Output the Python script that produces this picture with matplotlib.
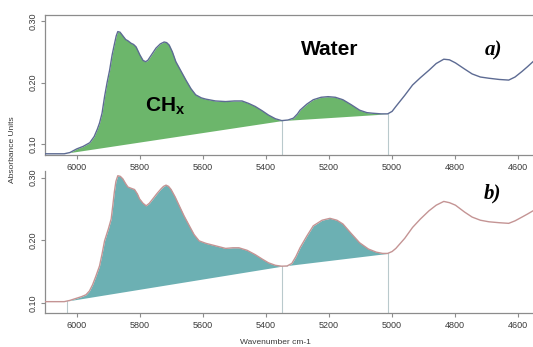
import numpy as np
import matplotlib
matplotlib.use("Agg")
import matplotlib.pyplot as plt

plt.rcParams['font.family'] = ['Liberation Sans', 'DejaVu Sans']
plt.rcParams['mathtext.fontset'] = 'custom'
plt.rcParams['mathtext.bf'] = 'Liberation Sans:bold'
plt.rcParams['mathtext.rm'] = 'Liberation Sans'

# spectrum a) (wavenumber, absorbance)
wn_a = [6100, 6040, 6022, 6000, 5980, 5959, 5945, 5935, 5928, 5920, 5912, 5904, 5896,
        5888, 5881, 5875, 5870, 5863, 5854, 5845, 5838, 5828, 5820, 5812, 5800, 5790,
        5782, 5775, 5762, 5749, 5735, 5723, 5715, 5707, 5697, 5686, 5670, 5654, 5638,
        5623, 5605, 5591, 5560, 5528, 5500, 5476, 5455, 5434, 5412, 5392, 5370, 5350,
        5330, 5313, 5300, 5292, 5270, 5250, 5225, 5203, 5180, 5156, 5130, 5103, 5080,
        5061, 5035, 5014, 5000, 4988, 4960, 4935, 4910, 4883, 4860, 4836, 4818, 4799,
        4770, 4746, 4720, 4693, 4660, 4630, 4610, 4588, 4570, 4553]
abs_a = [0.084, 0.084, 0.086, 0.092, 0.096, 0.102, 0.112, 0.124, 0.134, 0.150, 0.177,
         0.200, 0.220, 0.245, 0.262, 0.276, 0.283, 0.282, 0.276, 0.270, 0.268, 0.264,
         0.262, 0.258, 0.245, 0.236, 0.234, 0.236, 0.246, 0.256, 0.263, 0.266, 0.265,
         0.261, 0.250, 0.234, 0.219, 0.204, 0.190, 0.180, 0.175, 0.173, 0.170, 0.169,
         0.170, 0.170, 0.166, 0.161, 0.154, 0.147, 0.141, 0.138, 0.139, 0.142, 0.149,
         0.155, 0.165, 0.172, 0.176, 0.177, 0.176, 0.172, 0.164, 0.155, 0.151, 0.150,
         0.149, 0.149, 0.153, 0.161, 0.179, 0.196, 0.208, 0.220, 0.231, 0.238, 0.237,
         0.232, 0.222, 0.214, 0.209, 0.207, 0.205, 0.204, 0.209, 0.218, 0.226, 0.234]

# spectrum b)
wn_b = [6100, 6040, 6022, 6000, 5985, 5971, 5960, 5950, 5940, 5928, 5920, 5912, 5900,
        5891, 5886, 5881, 5876, 5870, 5862, 5854, 5846, 5838, 5828, 5817, 5808, 5801,
        5790, 5780, 5770, 5759, 5745, 5733, 5725, 5717, 5709, 5701, 5688, 5675, 5660,
        5643, 5628, 5612, 5590, 5559, 5528, 5505, 5486, 5460, 5434, 5412, 5392, 5370,
        5350, 5333, 5318, 5305, 5292, 5270, 5250, 5222, 5197, 5175, 5156, 5130, 5103,
        5075, 5050, 5030, 5014, 5000, 4988, 4960, 4935, 4910, 4883, 4860, 4836, 4818,
        4799, 4770, 4746, 4720, 4693, 4660, 4630, 4610, 4588, 4570, 4553]
abs_b = [0.102, 0.102, 0.104, 0.1076, 0.110, 0.113, 0.119, 0.129, 0.142, 0.159, 0.178,
         0.199, 0.218, 0.234, 0.255, 0.277, 0.294, 0.303, 0.302, 0.298, 0.291, 0.285,
         0.283, 0.281, 0.274, 0.266, 0.259, 0.255, 0.259, 0.266, 0.275, 0.282, 0.286,
         0.288, 0.286, 0.281, 0.269, 0.255, 0.239, 0.223, 0.209, 0.199, 0.195, 0.191,
         0.187, 0.188, 0.188, 0.184, 0.177, 0.170, 0.164, 0.160, 0.1586, 0.159, 0.163,
         0.174, 0.188, 0.207, 0.223, 0.232, 0.235, 0.232, 0.226, 0.211, 0.196, 0.186,
         0.181, 0.179, 0.179, 0.182, 0.187, 0.203, 0.2205, 0.234, 0.247, 0.256, 0.262,
         0.260, 0.256, 0.245, 0.237, 0.232, 0.2295, 0.228, 0.227, 0.231, 0.237, 0.242,
         0.247]

# integration limits (baseline anchors)
ch_lim_a = [6022, 5350]
water_lim_a = [5350, 5014]
ch_lim_b = [6030, 5350]
water_lim_b = [5350, 5014]

xticks = [6000, 5800, 5600, 5400, 5200, 5000, 4800, 4600]
yticks = [0.10, 0.20, 0.30]

spine_col = '#8c8c8c'
vline_col = '#b9c9cc'


def curve_at(wn, ab, x):
    return np.interp(x, wn[::-1], ab[::-1])


def shade(ax, wn, ab, lim, color):
    wn = np.asarray(wn, float)
    ab = np.asarray(ab, float)
    hi, lo = lim
    y_hi, y_lo = curve_at(wn, ab, hi), curve_at(wn, ab, lo)
    inner = wn[(wn < hi) & (wn > lo)]
    xs = np.concatenate([[hi], inner, [lo]])
    ys = curve_at(wn, ab, xs)
    base = np.interp(xs, [lo, hi], [y_lo, y_hi])
    ax.fill_between(xs, ys, base, color=color, lw=0, zorder=1)


def style(ax, ylim, top_spine):
    ax.set_xlim(6101, 4553)
    ax.set_ylim(*ylim)
    ax.set_xticks(xticks)
    ax.set_yticks(yticks)
    ax.set_yticklabels(['%.2f' % v for v in yticks], rotation=90, va='center')
    for s in ['left', 'bottom', 'top']:
        ax.spines[s].set_color(spine_col)
        ax.spines[s].set_linewidth(0.9)
    ax.spines['right'].set_visible(False)
    ax.spines['top'].set_visible(top_spine)
    ax.tick_params(colors=spine_col, labelcolor='#3a3a3a', labelsize=6.5,
                   length=3, width=0.8, pad=2.5)


fig = plt.figure(figsize=(5.33, 3.47), dpi=100)
ax1 = fig.add_axes([0.0844, 0.5533, 0.9156, 0.4035])
ax2 = fig.add_axes([0.0844, 0.098, 0.9156, 0.41])

# panel a
ylim_a = (0.082, 0.310)
shade(ax1, wn_a, abs_a, ch_lim_a, '#6cb66b')
shade(ax1, wn_a, abs_a, water_lim_a, '#6cb66b')
for x in [5350, 5014]:
    ax1.plot([x, x], [ylim_a[0], curve_at(wn_a, abs_a, x)], color=vline_col, lw=0.8, zorder=2)
ax1.plot(wn_a, abs_a, color='#5d6b93', lw=1.0, zorder=3)
style(ax1, ylim_a, True)
ax1.text(5197, 0.253, 'Water', fontsize=15, fontweight='bold', ha='center', va='center')
ax1.text(5720, 0.162, r'CH$_{\mathbf{x}}$', fontsize=15, fontweight='bold', ha='center', va='center')
ax1.text(4677, 0.253, 'a)', fontsize=15, fontweight='bold', style='italic',
         family='Liberation Serif', ha='center', va='center')

# panel b
ylim_b = (0.0839, 0.311)
shade(ax2, wn_b, abs_b, ch_lim_b, '#6cb0b3')
shade(ax2, wn_b, abs_b, water_lim_b, '#6cb0b3')
for x in [6030, 5350, 5014]:
    ax2.plot([x, x], [ylim_b[0], curve_at(wn_b, abs_b, x)], color=vline_col, lw=0.8, zorder=2)
ax2.plot(wn_b, abs_b, color='#c49494', lw=1.0, zorder=3)
style(ax2, ylim_b, False)
ax2.text(4680, 0.274, 'b)', fontsize=15, fontweight='bold', style='italic',
         family='Liberation Serif', ha='center', va='center')

fig.text(0.024, 0.57, 'Absorbance Units', rotation=90, ha='center', va='center',
         fontsize=6, color='#3a3a3a')
fig.text(0.516, 0.012, 'Wavenumber cm-1', ha='center', va='center',
         fontsize=6, color='#3a3a3a')

fig.savefig('out.png', dpi=100)
